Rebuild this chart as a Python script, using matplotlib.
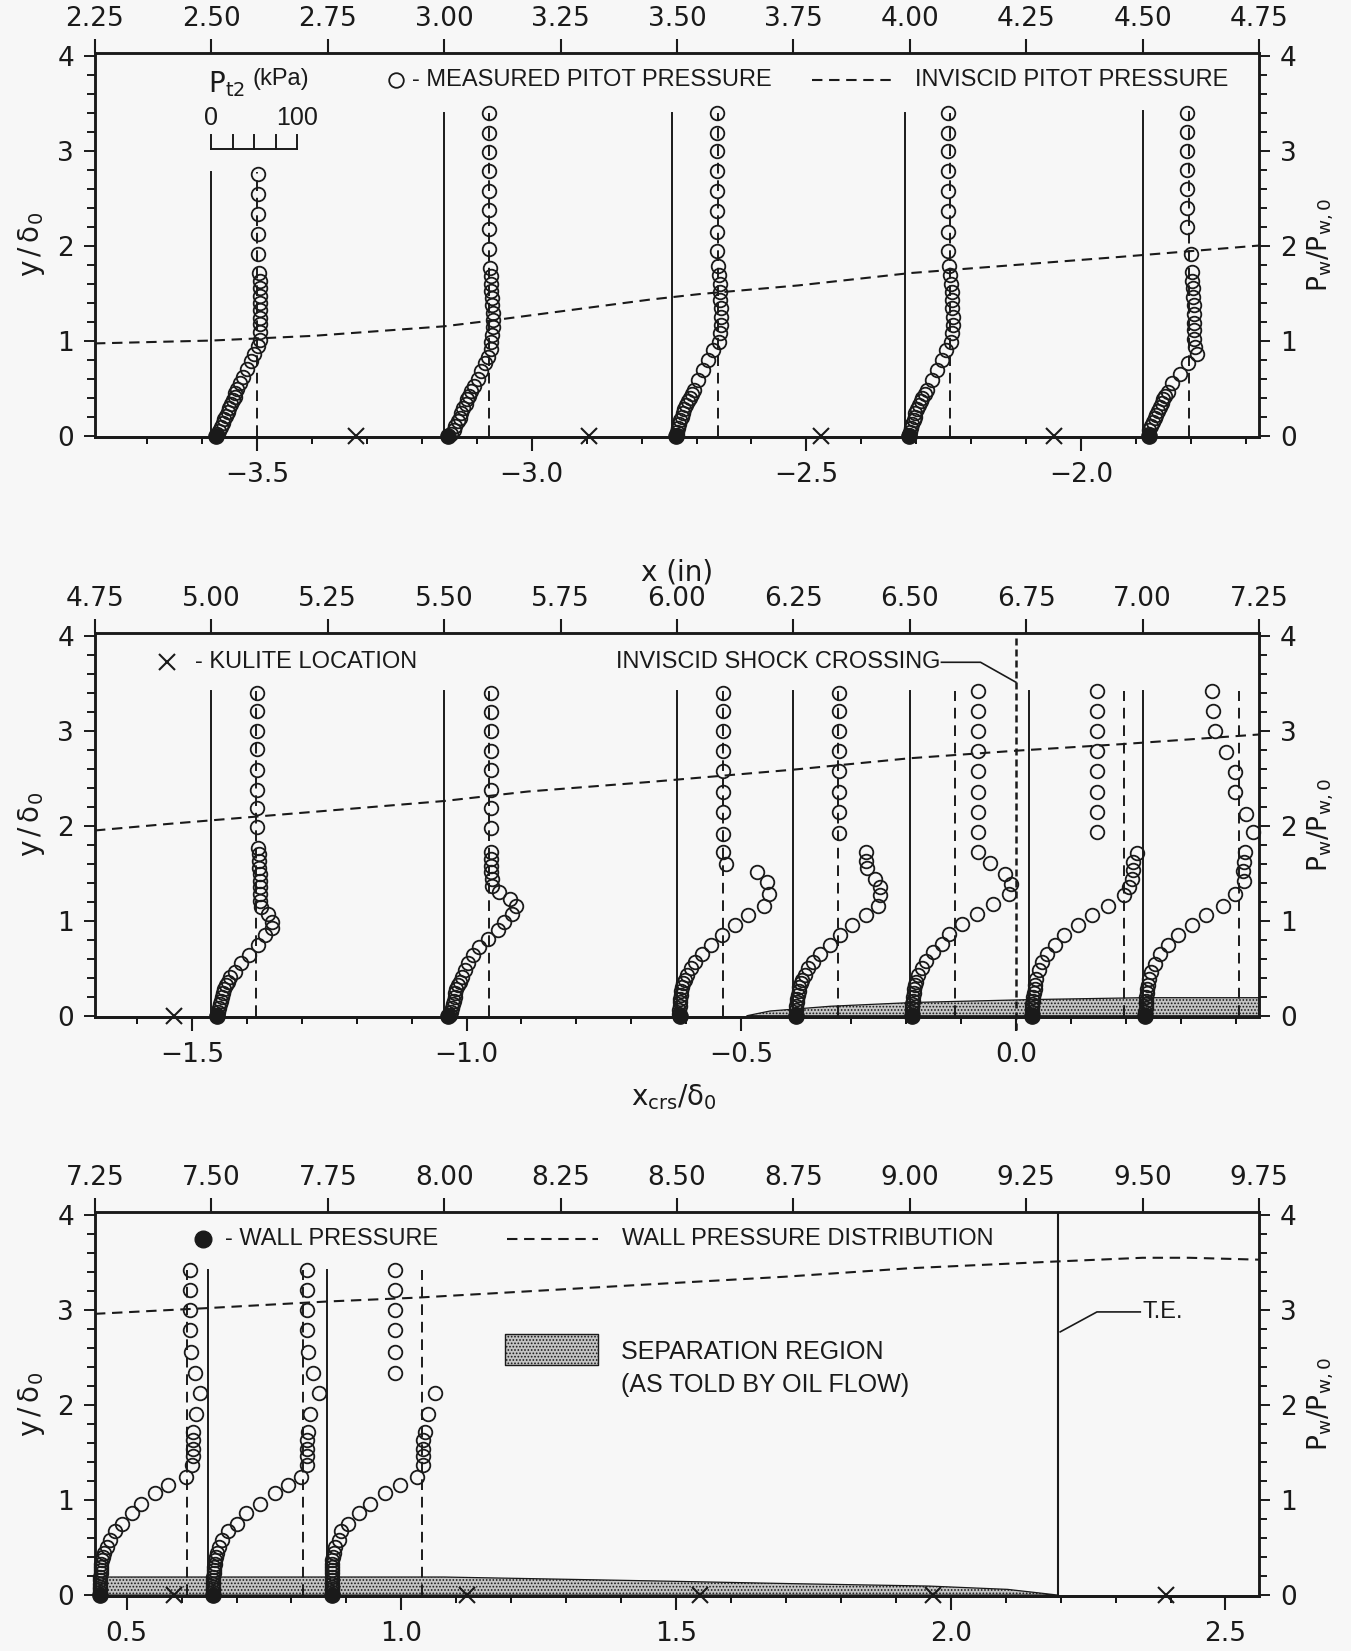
import numpy as np
import matplotlib
matplotlib.use('Agg')
import matplotlib.pyplot as plt
from matplotlib.ticker import MultipleLocator, FixedLocator, FuncFormatter, NullFormatter

plt.rcParams['font.family'] = ['DejaVu Sans']
plt.rcParams['mathtext.fontset'] = 'dejavusans'
plt.rcParams['hatch.linewidth'] = 0.8

INK = '#1a1a1a'
PAPER = '#f7f7f7'
LEG = ['Liberation Sans', 'DejaVu Sans']
KPA = 0.1847 / 100      # inches of x per kPa of pitot pressure
X0, D0 = 6.728, 1.18    # x_crs origin (in) and delta_0 (in)

# ---- panel 1 : x = 2.25 .. 4.75 in ----
st1 = [2.50, 3.00, 3.49, 3.99, 4.50]
top1 = [2.77, 3.40, 3.40, 3.40, 3.42]
dash1 = [53, 52, 53, 52.6, 53.5]
wall1 = [5, 4, 4, 4, 7]
crs1 = [-3.5, -3.0, -2.5, -2.0]
p1a_y = [2.75, 2.54, 2.33, 2.12, 1.91, 1.71, 1.63, 1.55, 1.47, 1.40, 1.32, 1.24, 1.17, 1.09, 1.01,
         0.94, 0.86, 0.78, 0.70, 0.62, 0.55, 0.49, 0.45, 0.41, 0.37, 0.33, 0.29, 0.25, 0.21, 0.17,
         0.13, 0.09, 0.05, 0.02]
p1a_p = [54, 54, 54, 54, 54, 55, 56, 57, 57, 57, 57, 57, 57, 57, 56,
         54, 50, 46, 42, 37, 33, 30, 28, 27, 25, 23, 21, 19, 17, 15,
         13, 11, 9, 7]
p1b_y = [3.39, 3.18, 2.98, 2.78, 2.57, 2.37, 2.17, 1.96, 1.76, 1.68, 1.60, 1.52, 1.45, 1.37, 1.29,
         1.22, 1.14, 1.06, 0.98, 0.91, 0.83, 0.76, 0.68, 0.60, 0.52, 0.47, 0.42, 0.38, 0.33, 0.29,
         0.24, 0.19, 0.15, 0.10, 0.06, 0.02]
p1b_p = [52, 52, 52, 52, 52, 52, 52, 52, 53, 54, 55, 55, 56, 56, 57,
         57, 57, 56, 55, 54, 51, 47, 43, 39, 35, 31, 29, 27, 25, 22,
         20, 18, 16, 13, 11, 8]
p1c_y = [3.39, 3.18, 2.99, 2.78, 2.57, 2.36, 2.14, 1.94, 1.78, 1.69, 1.60, 1.51, 1.43, 1.34, 1.25,
         1.16, 1.08, 0.99, 0.90, 0.80, 0.69, 0.59, 0.48, 0.44, 0.40, 0.36, 0.32, 0.28, 0.24, 0.20,
         0.16, 0.12, 0.08, 0.04, 0.01]
p1c_p = [52, 52, 52, 52, 52, 52, 52, 52, 53, 54, 55, 56, 56, 57, 57,
         57, 56, 54, 47, 42, 36, 30, 25, 23, 20, 18, 16, 14, 12, 11,
         9, 8, 7, 6, 5]
p1d_y = p1c_y
p1d_p = [50, 50, 50, 50, 50, 50, 50, 50, 51, 52, 53, 54, 55, 55, 56,
         56, 55, 53, 48, 43, 37, 31, 25, 23, 20, 18, 16, 14, 12, 11,
         10, 8, 7, 6, 5]
p1e_y = [3.39, 3.19, 2.99, 2.79, 2.59, 2.39, 2.19, 1.91, 1.72, 1.63, 1.55, 1.46, 1.37, 1.28, 1.19,
         1.11, 1.02, 0.93, 0.86, 0.76, 0.65, 0.55, 0.46, 0.42, 0.38, 0.34, 0.30, 0.26, 0.22, 0.18,
         0.14, 0.10, 0.06, 0.02]
p1e_p = [52, 52, 52, 52, 52, 52, 52, 56, 58, 58, 59, 59, 60, 60, 60,
         60, 60, 61, 63, 53, 43, 34, 29, 26, 24, 22, 20, 18, 16, 14,
         12, 10, 8, 7]
kul1 = [2.81, 3.31, 3.81, 4.31]
wp1_x = [2.25, 2.50, 2.72, 3.00, 3.10, 3.27, 3.44, 3.55, 3.76, 4.00, 4.45, 4.75]
wp1_y = [0.97, 1.00, 1.05, 1.15, 1.21, 1.32, 1.43, 1.49, 1.58, 1.71, 1.88, 2.00]

# ---- panel 2 : x = 4.75 .. 7.25 in ----
st2 = [5.00, 5.50, 6.00, 6.25, 6.50, 6.755, 7.00]
top2 = [3.42, 3.42, 3.42, 3.42, 3.42, 3.42, 3.42]
dash2 = [51.5, 52.3, 53.8, 52.3, 52.3, 110.5, 112.4]
wall2 = [6.7, 5, 3, 3, 2.5, 3.5, 3]
crs2 = [-1.5, -1.0, -0.5, 0.0]
p2a_y = [3.40, 3.21, 3.00, 2.81, 2.59, 2.38, 2.19, 1.99, 1.77, 1.70, 1.63, 1.56, 1.49, 1.42, 1.35,
         1.28, 1.21, 1.14, 1.07, 0.99, 0.92, 0.85, 0.74, 0.64, 0.55, 0.46, 0.41, 0.36, 0.32, 0.28,
         0.24, 0.20, 0.16, 0.12, 0.08, 0.04, 0.01]
p2a_p = [53, 53, 53, 53, 53, 53, 53, 53, 54, 55, 55, 55, 56, 56, 57,
         57, 57, 58, 66, 71, 70, 62, 54, 44, 35, 27, 22, 19, 17, 15,
         13, 12, 11, 10, 9, 8, 7]
p2b_y = [3.40, 3.20, 3.00, 2.79, 2.59, 2.38, 2.19, 1.98, 1.72, 1.65, 1.58, 1.51, 1.44, 1.37, 1.30,
         1.23, 1.16, 1.07, 0.99, 0.90, 0.81, 0.72, 0.64, 0.55, 0.48, 0.41, 0.36, 0.32, 0.28, 0.24,
         0.20, 0.16, 0.12, 0.08, 0.04, 0.01]
p2b_p = [54, 54, 54, 54, 54, 54, 54, 54, 55, 55, 55, 55, 56, 56, 64,
         76, 83, 79, 70, 62, 51, 41, 34, 28, 24, 21, 18, 16, 14, 13,
         12, 11, 10, 9, 8, 7]
p2c_y = [3.40, 3.21, 3.00, 2.79, 2.58, 2.35, 2.14, 1.91, 1.72, 1.60, 1.51, 1.41, 1.28, 1.16, 1.06,
         0.95, 0.85, 0.74, 0.65, 0.57, 0.50, 0.43, 0.38, 0.34, 0.30, 0.26, 0.22, 0.18, 0.14, 0.10,
         0.06, 0.02]
p2c_p = [54, 54, 54, 54, 54, 54, 54, 54, 54, 57, 93, 105, 107, 101, 83,
         67, 52, 39, 29, 21, 16, 12, 9, 7.5, 6, 5, 4.5, 4, 3.5, 3,
         2.5, 2.3]
p2d_y = [3.40, 3.21, 3.00, 2.79, 2.58, 2.35, 2.14, 1.92, 1.72, 1.63, 1.55, 1.44, 1.35, 1.27, 1.16,
         1.06, 0.95, 0.85, 0.74, 0.65, 0.57, 0.50, 0.43, 0.38, 0.34, 0.30, 0.26, 0.22, 0.18, 0.14,
         0.10, 0.06, 0.02]
p2d_p = [53, 53, 53, 53, 53, 53, 53, 53, 85, 84, 86, 95, 101, 101, 98,
         85, 68, 54, 43, 31, 23, 17, 13, 10, 8.5, 7, 6, 5, 4.5, 4,
         3.5, 3, 2.8]
p2e_y = [3.42, 3.21, 3.00, 2.79, 2.58, 2.35, 2.14, 1.93, 1.72, 1.61, 1.49, 1.39, 1.28, 1.18, 1.07,
         0.97, 0.86, 0.76, 0.67, 0.58, 0.50, 0.43, 0.36, 0.32, 0.28, 0.24, 0.20, 0.16, 0.12, 0.08,
         0.04, 0.01]
p2e_p = [79, 79, 79, 79, 79, 79, 79, 79, 79, 93, 111, 118, 115, 97, 78,
         61, 46, 37, 27, 19, 14, 10, 7, 6, 5, 4.5, 4, 3.5, 3, 2.8,
         2.5, 2.2]
p2f_y = [3.42, 3.21, 3.00, 2.79, 2.58, 2.35, 2.14, 1.93, 1.71, 1.62, 1.53, 1.44, 1.36, 1.27, 1.16,
         1.06, 0.95, 0.85, 0.74, 0.65, 0.57, 0.48, 0.39, 0.32, 0.28, 0.24, 0.20, 0.16, 0.12, 0.08,
         0.04, 0.01]
p2f_p = [80, 80, 80, 80, 80, 80, 80, 80, 126, 122, 122, 120, 117, 111, 93,
         74, 57, 41, 31, 22, 16, 12, 9, 8, 7, 6.5, 5.5, 5, 4.5, 4,
         3.8, 3.5]
p2g_y = [3.42, 3.21, 3.00, 2.78, 2.56, 2.35, 2.12, 1.93, 1.72, 1.62, 1.52, 1.42, 1.28, 1.16, 1.06,
         0.95, 0.85, 0.74, 0.65, 0.54, 0.46, 0.39, 0.32, 0.28, 0.24, 0.20, 0.16, 0.12, 0.08, 0.04,
         0.01]
p2g_p = [81, 82, 84, 97, 107, 108, 120, 128, 119, 118, 117, 118, 107, 93, 74,
         57, 41, 29, 20, 14, 10, 7.5, 6, 5.5, 5, 4.5, 4, 3.8, 3.5, 3.2,
         3]
kul2 = [4.92]
wp2_x = [4.75, 4.91, 5.50, 5.68, 5.94, 6.25, 6.50, 6.73, 6.96, 7.25]
wp2_y = [1.95, 2.02, 2.26, 2.36, 2.46, 2.59, 2.71, 2.79, 2.86, 2.96]
sep2_x = [6.15, 6.20, 6.33, 6.51, 6.76, 7.00, 7.25]
sep2_y = [0.0, 0.05, 0.10, 0.14, 0.17, 0.19, 0.19]

# ---- panel 3 : x = 7.25 .. 9.75 in ----
st3 = [7.25, 7.492, 7.748]
top3 = [3.42, 3.42, 3.42]
dash3 = [107, 110.5, 110.5]
wall3 = [5.8, 6.5, 6]
crs3 = [0.5, 1.0, 1.5, 2.0, 2.5]
p3_y = [3.42, 3.21, 3.00, 2.79, 2.56, 2.34, 2.13, 1.91, 1.72, 1.63, 1.54, 1.46, 1.37, 1.24, 1.16,
        1.07, 0.96, 0.86, 0.75, 0.67, 0.58, 0.51, 0.44, 0.40, 0.37, 0.33, 0.30, 0.26, 0.23, 0.19,
        0.16, 0.12, 0.09, 0.06, 0.03]
p3a_p = [110, 110, 110, 110, 112, 116, 122, 118, 114, 114, 114, 114, 113, 106, 85,
         70, 54, 43, 31, 23, 17, 14, 11, 9.5, 8.5, 7.5, 7, 6.5, 6.5, 6,
         6, 6, 6, 6, 6]
p3b_p = [115, 115, 115, 115, 117, 123, 129, 119, 117, 115, 115, 115, 115, 109, 94,
         78, 61, 45, 34, 24, 17, 13.5, 10.5, 9.5, 8.5, 8, 7.5, 7, 7, 6.5,
         6.5, 6.5, 6.5, 6.5, 6.5]
p3c_p = [79, 79, 79, 79, 79, 79, 126, 118, 114, 112, 112, 112, 112, 105, 85,
         68, 50, 37, 25, 17, 14, 10, 8, 7, 6.5, 6.5, 6, 6, 5.5, 5.5,
         5.5, 5.5, 5.5, 5.5, 5.5]
kul3 = [7.42, 8.05, 8.55, 9.05, 9.55]
wp3_x = [7.25, 7.49, 7.75, 7.94, 8.12, 8.44, 8.73, 9.00, 9.31, 9.50, 9.60, 9.75]
wp3_y = [2.96, 3.02, 3.09, 3.13, 3.18, 3.27, 3.35, 3.44, 3.51, 3.55, 3.55, 3.53]
sep3_x = [7.25, 8.00, 8.44, 8.75, 9.04, 9.21, 9.318]
sep3_y = [0.19, 0.19, 0.15, 0.12, 0.095, 0.06, 0.0]
TE = 9.318

pscale = [0, 25, 50, 75, 100]

TICK = 19
TXT = 17
SEP_FACE = '#c4c4c4'


def to_crs(x):
    return (x - X0) / D0


def from_crs(s):
    return s * D0 + X0


def crs_fmt(v, _):
    s = f'{v:.1f}'
    if s == '-0.0':
        s = '0.0'
    return s.replace('-', '\u2212')


def setup(ax, lo, hi, crs):
    ax.set_facecolor('none')
    ax.set_xlim(lo, hi)
    ax.set_ylim(-0.01, 4.03)
    for s in ax.spines.values():
        s.set_linewidth(1.8)
        s.set_color(INK)
    ax.xaxis.tick_top()
    ax.set_xticks(np.arange(lo, hi + 0.01, 0.25))
    ax.xaxis.set_major_formatter(FuncFormatter(lambda v, _: f'{v:.2f}'))
    ax.tick_params(axis='x', which='major', direction='out', length=10, width=1.5,
                   labelsize=TICK, pad=5, colors=INK)
    ax.yaxis.set_major_locator(MultipleLocator(1))
    ax.yaxis.set_minor_locator(MultipleLocator(0.2))
    ax.tick_params(axis='y', which='both', direction='out', width=1.4, labelsize=TICK,
                   pad=7, colors=INK)
    ax.tick_params(axis='y', which='major', length=8)
    ax.tick_params(axis='y', which='minor', length=6)
    ax.set_ylabel(r'$\mathregular{y\,/\,\delta_0}$', fontsize=20, color=INK)
    ax.yaxis.set_label_coords(-0.041, 0.5)

    sec = ax.secondary_xaxis('bottom', functions=(to_crs, from_crs))
    lo_c, hi_c = to_crs(lo), to_crs(hi)
    minors = [m / 10 for m in range(int(np.ceil(lo_c * 10)), int(np.floor(hi_c * 10)) + 1)]
    sec.xaxis.set_major_locator(FixedLocator(crs))
    sec.xaxis.set_minor_locator(FixedLocator(minors))
    sec.xaxis.set_major_formatter(FuncFormatter(crs_fmt))
    sec.xaxis.set_minor_formatter(NullFormatter())
    sec.spines['bottom'].set_linewidth(1.8)
    sec.tick_params(which='major', direction='out', length=10, width=1.5, labelsize=TICK,
                    pad=8, colors=INK)
    sec.tick_params(which='minor', direction='out', length=5, width=1.3)

    ax2 = ax.twinx()
    ax2.set_ylim(ax.get_ylim())
    ax2.yaxis.set_major_locator(MultipleLocator(1))
    ax2.yaxis.set_minor_locator(MultipleLocator(0.2))
    ax2.tick_params(axis='y', which='both', direction='out', width=1.4, labelsize=TICK,
                    pad=7, colors=INK)
    ax2.tick_params(axis='y', which='major', length=8)
    ax2.tick_params(axis='y', which='minor', length=6)
    ax2.set_ylabel(r'$\mathregular{P_w/P_{w,0}}$', fontsize=19, color=INK)
    ax2.yaxis.set_label_coords(1.04, 0.5)
    for s in ax2.spines.values():
        s.set_linewidth(1.8)
        s.set_color(INK)
    return ax2


def profile(ax, st, top, pdash, pwall, y, p):
    ax.plot([st, st], [0, top], color=INK, lw=1.4, zorder=3)
    xd = st + pdash * KPA
    ax.plot([xd, xd], [0, top], color=INK, lw=1.4, ls=(0, (5.5, 3.5)), zorder=3)
    ax.plot(st + np.array(p) * KPA, y, 'o', ms=9.8, mfc='none', mec=INK, mew=1.3,
            zorder=4, clip_on=False)
    ax.plot(st + pwall * KPA, 0, 'o', ms=11, color=INK, zorder=5, clip_on=False)


def kulites(ax, xs):
    ax.plot(xs, np.zeros(len(xs)), 'x', ms=12, mew=1.5, color=INK, zorder=5, clip_on=False)


fig = plt.figure(figsize=(13.51, 16.51), dpi=100, facecolor=PAPER)
ax_a = fig.add_axes([0.0703, 0.7356, 0.8616, 0.2325])
ax_b = fig.add_axes([0.0703, 0.3842, 0.8616, 0.2325])
ax_c = fig.add_axes([0.0703, 0.0333, 0.8616, 0.2325])

dash_style = dict(color=INK, lw=1.5, ls=(0, (5, 3.2)))

# panel 1
r_a = setup(ax_a, 2.25, 4.75, crs1)
for st, top, pd_, pw, y, p in zip(st1, top1, dash1, wall1,
                                  [p1a_y, p1b_y, p1c_y, p1d_y, p1e_y],
                                  [p1a_p, p1b_p, p1c_p, p1d_p, p1e_p]):
    profile(ax_a, st, top, pd_, pw, y, p)
kulites(ax_a, kul1)
r_a.plot(wp1_x, wp1_y, **dash_style)
sx = st1[0] + np.array(pscale) * KPA
ax_a.plot([sx[0], sx[-1]], [3.02, 3.02], color=INK, lw=1.4)
for v in sx:
    ax_a.plot([v, v], [3.02, 3.16], color=INK, lw=1.4)
ax_a.text(sx[0], 3.34, '0', ha='center', va='center', fontsize=TXT + 1, family=LEG, color=INK)
ax_a.text(sx[-1], 3.34, '100', ha='center', va='center', fontsize=TXT + 1, family=LEG,
          color=INK)
ax_a.text(2.493, 3.70, r'$\mathregular{P_{t2}}$', ha='left', va='center', fontsize=TXT + 3,
          color=INK)
ax_a.text(2.588, 3.75, '(kPa)', ha='left', va='center', fontsize=TXT, family=LEG, color=INK)
ax_a.plot([2.896], [3.74], 'o', ms=10.5, mfc='none', mec=INK, mew=1.3)
ax_a.text(2.93, 3.74, '- MEASURED PITOT PRESSURE', ha='left', va='center', fontsize=TXT,
          family=LEG, color=INK)
ax_a.plot([3.79, 3.965], [3.74, 3.74], **dash_style)
ax_a.text(4.012, 3.74, 'INVISCID PITOT PRESSURE', ha='left', va='center', fontsize=TXT,
          family=LEG, color=INK)

# panel 2
r_b = setup(ax_b, 4.75, 7.25, crs2)
ax_b.fill_between(sep2_x, 0, sep2_y, facecolor=SEP_FACE, edgecolor=INK, hatch='.....',
                  lw=0.9, zorder=2)
for st, top, pd_, pw, y, p in zip(st2, top2, dash2, wall2,
                                  [p2a_y, p2b_y, p2c_y, p2d_y, p2e_y, p2f_y, p2g_y],
                                  [p2a_p, p2b_p, p2c_p, p2d_p, p2e_p, p2f_p, p2g_p]):
    profile(ax_b, st, top, pd_, pw, y, p)
kulites(ax_b, kul2)
r_b.plot(wp2_x, wp2_y, **dash_style)
ax_b.axvline(X0, ymin=-0.035, ymax=1, color=INK, lw=1.8, ls=(0, (2.8, 1.6)), clip_on=False,
             zorder=3)
ax_b.plot([4.905], [3.72], 'x', ms=12, mew=1.5, color=INK)
ax_b.text(4.965, 3.72, '- KULITE LOCATION', ha='left', va='center', fontsize=TXT,
          family=LEG, color=INK)
ax_b.text(6.566, 3.72, 'INVISCID SHOCK CROSSING', ha='right', va='center', fontsize=TXT,
          family=LEG, color=INK)
ax_b.plot([6.568, 6.652, X0], [3.72, 3.72, 3.51], color=INK, lw=1.2)

# panel 3
r_c = setup(ax_c, 7.25, 9.75, crs3)
ax_c.fill_between(sep3_x, 0, sep3_y, facecolor=SEP_FACE, edgecolor=INK, hatch='.....',
                  lw=0.9, zorder=2)
for st, top, pd_, pw, p in zip(st3, top3, dash3, wall3, [p3a_p, p3b_p, p3c_p]):
    profile(ax_c, st, top, pd_, pw, p3_y, p)
kulites(ax_c, kul3)
r_c.plot(wp3_x, wp3_y, **dash_style)
ax_c.axvline(TE, color=INK, lw=1.5, zorder=3)
ax_c.plot([7.481], [3.75], 'o', ms=12, color=INK)
ax_c.text(7.53, 3.75, '- WALL PRESSURE', ha='left', va='center', fontsize=TXT,
          family=LEG, color=INK)
ax_c.plot([8.134, 8.331], [3.75, 3.75], **dash_style)
ax_c.text(8.382, 3.75, 'WALL PRESSURE DISTRIBUTION', ha='left', va='center', fontsize=TXT,
          family=LEG, color=INK)
ax_c.fill_between([8.13, 8.331], 2.42, 2.75, facecolor=SEP_FACE, edgecolor=INK,
                  hatch='.....', lw=1.0)
ax_c.text(8.38, 2.56, 'SEPARATION REGION', ha='left', va='center', fontsize=TXT + 1,
          family=LEG, color=INK)
ax_c.text(8.38, 2.21, '(AS TOLD BY OIL FLOW)', ha='left', va='center', fontsize=TXT + 1,
          family=LEG, color=INK)
ax_c.plot([9.495, 9.402, 9.323], [2.98, 2.98, 2.77], color=INK, lw=1.2)
ax_c.text(9.50, 2.98, 'T.E.', ha='left', va='center', fontsize=TXT, family=LEG, color=INK)

fig.text(677 / 1351, 1 - 572 / 1651, 'x (in)', ha='center', va='center', fontsize=20,
         color=INK)
fig.text(674 / 1351, 1 - 1097 / 1651, r'$\mathregular{x_{crs}/\delta_0}$', ha='center',
         va='center', fontsize=20, color=INK)

fig.savefig('out.png', dpi=100, facecolor=PAPER)
